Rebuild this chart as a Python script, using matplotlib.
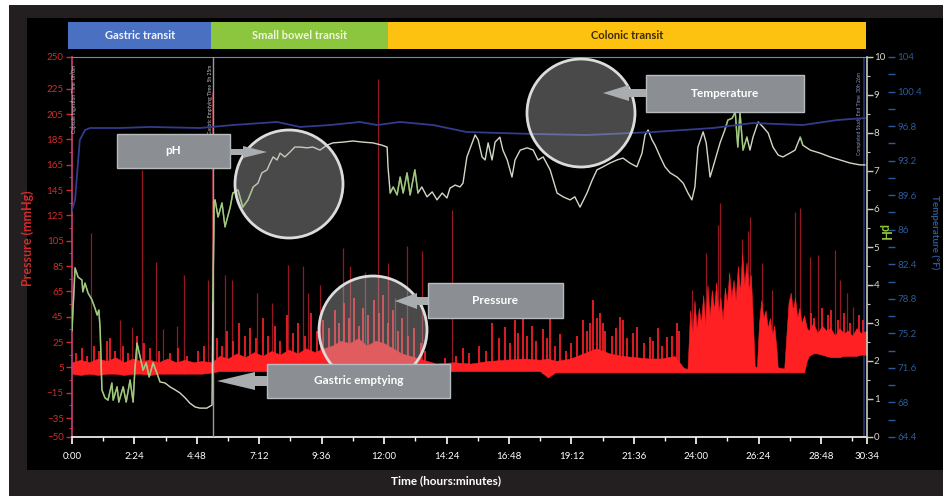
import numpy as np
import matplotlib
matplotlib.use('Agg')
import matplotlib.pyplot as plt
from matplotlib.patches import Rectangle, Ellipse, Polygon
from matplotlib.ticker import FixedLocator, FuncFormatter

plt.rcParams['font.family'] = ['Lato', 'DejaVu Sans']

W, H = 943, 496

# transit phases (minutes after ingestion)
phases = ['Gastric transit', 'Small bowel transit', 'Colonic transit']
phase_start = [0, 322, 730]
phase_end = [322, 730, 1834]
phase_colors = ['#4a70c2', '#8cc63f', '#fdc10f']
phase_text = ['#f2f4fa', '#eef6dc', '#3b2a05']

gastric_emptying = 325
study_end = 1827

# pressure (mmHg): dense trace band, time / upper edge / lower edge
press_t = [0, 20, 40, 60, 80, 100, 120, 140, 160, 180, 200, 220, 240, 260, 280, 300, 323,
           340, 360, 380, 400, 420, 440, 460, 480, 500, 520, 540, 560, 580, 600, 620, 640, 660, 680,
           700, 720, 740, 760, 780, 800, 820,
           840, 880, 920, 960, 1000, 1040, 1080, 1098, 1115, 1150, 1180, 1210, 1240, 1270, 1300, 1330,
           1360, 1390, 1410, 1416,
           1420, 1426, 1431, 1436, 1441, 1446, 1451, 1456, 1461, 1466,
           1471, 1476, 1481, 1486, 1491, 1496, 1501, 1506, 1511, 1516,
           1521, 1526, 1531, 1536, 1541, 1546, 1551, 1556, 1561, 1566,
           1571, 1575, 1580, 1585, 1590, 1595, 1600, 1605, 1610, 1615,
           1620, 1625, 1628, 1643, 1648, 1653, 1658, 1663, 1668, 1673,
           1678, 1683, 1689, 1695,
           1700, 1710, 1720, 1730, 1740, 1750, 1760, 1770, 1780, 1790, 1800, 1810, 1820, 1834]
press_hi = [9, 11, 9, 12, 10, 13, 9, 12, 10, 11, 9, 12, 9, 11, 9, 10, 9,
            14, 12, 16, 13, 17, 14, 18, 15, 19, 16, 20, 17, 20, 22, 26, 24, 28, 22,
            26, 24, 20, 16, 14, 12, 10,
            8, 9, 8, 10, 11, 12, 11, 12, 10, 12, 16, 20, 16, 14, 13, 12,
            12, 14, 5, 4,
            4, 50, 30, 58, 35, 52, 40, 62, 38, 70,
            45, 66, 50, 72, 48, 60, 42, 68, 55, 80,
            60, 74, 58, 85, 64, 95, 70, 88, 66, 78,
            40, 6, 5, 40, 58, 44, 50, 36, 44, 30,
            38, 20, 5, 4, 30, 56, 64, 50, 60, 44,
            52, 40, 46, 36,
            34, 40, 32, 38, 34, 36, 30, 36, 32, 34, 30, 36, 32, 34]
press_lo = [0, -1, 0, -1, 0, 0, -1, 0, 0, -1, 0, 0, 0, 0, 0, 0, 1,
            2, 2, 2, 2, 2, 2, 2, 2, 2, 2, 2, 2, 2, 2, 2, 2, 2, 2,
            2, 2, 2, 2, 2, 2, 2,
            2, 2, 2, 2, 2, 2, 2, -3, 1, 1, 1, 1, 1, 1, 1, 1,
            1, 1, 1, 1,
            1, 1, 1, 1, 1, 1, 1, 1, 1, 1,
            1, 1, 1, 1, 1, 1, 1, 1, 1, 1,
            1, 1, 1, 1, 1, 1, 1, 1, 1, 1,
            1, 1, 1, 1, 1, 1, 1, 1, 1, 1,
            1, 1, 1, 1, 1, 1, 1, 1, 1, 1,
            1, 1, 1, 10,
            14, 16, 16, 15, 14, 13, 13, 13, 14, 14, 14, 14, 15, 15]

# short bright contractions (time, peak mmHg)
burst_t = [10, 22, 35, 50, 62, 80, 88, 100, 118, 130, 150, 165, 180, 200, 225, 245, 265, 290, 305,
           335, 345, 358, 372, 385, 398, 410, 425, 440, 452, 468, 480, 495, 510, 522, 538, 552, 566, 580, 594,
           606, 615, 628, 640, 650, 662, 672, 684, 696, 708, 718, 728, 740, 752, 762, 775, 790, 805, 815,
           860, 885, 902, 915, 940, 955, 969, 985, 999, 1010, 1022, 1030, 1040, 1050, 1061, 1070, 1087, 1095,
           1103, 1115, 1126, 1140, 1150, 1165, 1179, 1188, 1195, 1202, 1210, 1218, 1225, 1230, 1245, 1255,
           1264, 1271, 1280, 1295, 1303, 1320, 1333, 1340, 1352, 1362, 1373, 1385, 1396, 1400,
           1705, 1712, 1730, 1745, 1752, 1768, 1780, 1795, 1815, 1825]
burst_p = [16, 20, 14, 22, 18, 26, 28, 18, 22, 16, 30, 24, 20, 18, 16, 20, 14, 18, 22,
           28, 22, 34, 26, 40, 30, 36, 28, 44, 30, 38, 26, 46, 32, 40, 30, 48, 34, 42, 36,
           50, 40, 56, 44, 60, 38, 52, 46, 58, 48, 62, 40, 50, 34, 44, 30, 36, 24, 18,
           12, 14, 20, 16, 22, 18, 40, 28, 37, 24, 42, 32, 46, 30, 38, 26, 35, 28,
           50, 22, 31, 18, 24, 30, 42, 34, 40, 58, 44, 48, 40, 34, 30, 36,
           45, 42, 28, 32, 37, 24, 29, 26, 36, 22, 29, 30, 40, 34,
           48, 44, 52, 46, 50, 42, 48, 40, 46, 42]

# tall isolated spikes (time, peak mmHg)
spike_t = [44, 111, 138, 161, 194, 210, 242, 258, 314, 323,
           353, 369, 427, 462, 498, 533, 545, 572, 625, 641, 676, 706, 729, 745, 773, 807, 877,
           1430, 1463, 1490, 1495, 1546, 1560, 1564, 1592, 1615, 1668, 1680,
           1703, 1721, 1760, 1772, 1788, 1802]
spike_p = [111, 42, 37, 161, 88, 35, 38, 78, 74, 222,
           78, 74, 64, 56, 86, 85, 64, 70, 99, 85, 80, 233, 87, 60, 101, 97, 129,
           66, 95, 117, 135, 106, 113, 124, 87, 66, 128, 131,
           92, 94, 98, 74, 64, 53]

# pH trace
ph_t = [0, 7, 14, 23, 25, 30, 37, 46, 53, 58, 62, 65, 69, 76, 83, 92, 95, 104, 108, 118,
        125, 134, 141, 145, 150, 157, 164, 171, 178, 187, 196, 203, 215, 226, 238, 249, 261, 272, 284, 295,
        311, 323, 325, 328, 330, 337, 346, 353, 365, 371, 383, 394, 406, 418, 429, 438, 450, 457, 464, 473,
        480, 491, 503, 514, 526, 542, 556, 572, 588, 602, 625, 648, 671, 694, 715, 727, 729, 734, 741, 750,
        757, 764, 773, 780, 791, 798, 807, 819, 831, 842, 854, 865, 872, 884, 895, 902, 911, 923, 930, 937,
        946, 953, 960, 969, 976, 987, 994, 1004, 1015, 1022, 1034, 1050, 1064, 1075, 1087, 1103, 1119, 1133, 1149, 1160,
        1172, 1188, 1200, 1211, 1225, 1241, 1257, 1271, 1287, 1303, 1315, 1322, 1329, 1338, 1345, 1357, 1368, 1380, 1396, 1410,
        1421, 1430, 1437, 1444, 1456, 1463, 1472, 1479, 1488, 1495, 1506, 1513, 1523, 1530, 1536, 1541, 1548, 1557, 1564, 1571,
        1583, 1594, 1606, 1617, 1629, 1640, 1656, 1668, 1680, 1686, 1703, 1726, 1749, 1772, 1795, 1818, 1829]
ph_v = [2.8, 4.45, 4.21, 4.13, 3.82, 4.05, 3.79, 3.61, 3.39, 3.21, 3.34, 2.82, 1.24, 1.03, 0.97, 1.42, 0.97, 1.32, 0.92, 1.32,
        0.92, 1.50, 0.92, 1.76, 2.47, 2.11, 1.76, 1.95, 1.58, 1.95, 1.68, 1.45, 1.42, 1.32, 1.24, 1.16, 1.03, 0.89, 0.79, 0.76,
        0.76, 0.84, 3.6, 6.2, 6.24, 5.79, 6.16, 5.53, 6.05, 6.42, 6.50, 6.05, 6.24, 6.58, 6.68, 6.95, 7.03, 7.21, 7.37, 7.29,
        7.47, 7.37, 7.50, 7.63, 7.63, 7.61, 7.63, 7.55, 7.68, 7.74, 7.76, 7.79, 7.76, 7.74, 7.68, 7.63, 7.11, 6.42, 6.58, 6.37,
        6.84, 6.42, 6.95, 6.37, 7.03, 6.42, 6.58, 6.32, 6.45, 6.24, 6.42, 6.29, 6.55, 6.63, 6.58, 6.68, 7.37, 7.74, 7.95, 7.82,
        7.37, 7.29, 7.74, 7.29, 7.76, 7.89, 7.55, 7.29, 6.84, 7.29, 7.55, 7.61, 7.55, 7.29, 7.37, 7.03, 6.42, 6.32, 6.24, 6.32,
        6.05, 6.42, 6.76, 7.03, 7.11, 7.21, 7.29, 7.34, 7.21, 7.11, 7.47, 7.95, 8.08, 7.82, 7.68, 7.37, 7.11, 6.95, 6.84, 6.68,
        6.42, 6.24, 6.58, 7.63, 8.03, 7.74, 6.84, 7.11, 7.47, 7.74, 8.08, 8.34, 8.39, 8.55, 7.63, 8.53, 7.55, 7.89, 7.55, 7.89,
        8.29, 8.16, 8.00, 7.63, 7.42, 7.37, 7.47, 7.55, 7.89, 7.68, 7.55, 7.47, 7.37, 7.29, 7.21, 7.16, 7.16]
ph_green_spans = [(0, 205), (324, 420), (730, 800), (1500, 1560), (1670, 1690)]

# temperature (deg F)
temp_t = [0, 7, 18, 30, 42, 111, 180, 295, 371, 473, 526, 595, 664, 704, 757, 833,
          911, 987, 1064, 1188, 1340, 1479, 1571, 1686, 1765, 1829]
temp_v = [88.0, 89.1, 95.35, 96.39, 96.60, 96.60, 96.71, 96.60, 96.91, 97.23, 96.71, 96.91, 97.23, 96.91, 97.23, 96.91,
          96.18, 96.08, 95.98, 95.87, 96.18, 96.60, 97.12, 96.91, 97.43, 97.64]

press_ticks = [250, 225, 205, 185, 165, 145, 125, 105, 85, 65, 45, 25, 5, -15, -35, -50]
press_minor = [237.5, 215, 195, 175, 155, 135, 115, 95, 75, 55, 35, 15, -5, -25, -42.5]
time_ticks = [0, 144, 288, 432, 576, 720, 864, 1008, 1152, 1296, 1440, 1584, 1728, 1834]
time_minor = [72, 216, 360, 504, 648, 792, 936, 1080, 1224, 1368, 1512, 1656, 1800]
temp_ticks = [64.4, 68, 71.6, 75.2, 78.8, 82.4, 86, 89.6, 93.2, 96.8, 100.4, 104]
temp_labels = ['64.4', '68', '71.6', '75.2', '78.8', '82.4', '86', '89.6', '93.2', '96.8', '100.4', '104']
temp_minor = [66.2, 69.8, 73.4, 77, 80.6, 84.2, 87.8, 91.4, 95, 98.6, 102.2]


def fx(x):
    return x / W


def fy(y):
    return 1 - y / H


fig = plt.figure(figsize=(W / 100, H / 100), dpi=100)
fig.patch.set_facecolor('white')
fig.add_artist(Rectangle((fx(9), 0), 1 - fx(9), fy(5), transform=fig.transFigure,
                         facecolor='#231f20', edgecolor='none', zorder=-3))
fig.add_artist(Rectangle((fx(27), fy(470)), 1 - fx(27), fy(18) - fy(470), transform=fig.transFigure,
                         facecolor='black', edgecolor='none', zorder=-2))

# phase band
axb = fig.add_axes([fx(68), fy(49), fx(866) - fx(68), (49 - 22) / H])
axb.set_xlim(-9, 1832)
axb.set_ylim(0, 1)
axb.axis('off')
for i, name in enumerate(phases):
    s = -9 if i == 0 else phase_start[i]
    axb.add_patch(Rectangle((s, 0), phase_end[i] - s, 1, facecolor=phase_colors[i], edgecolor='none'))
    axb.text((s + phase_end[i]) / 2, 0.5, name, ha='center', va='center', fontsize=8,
             fontweight='bold', color=phase_text[i])

# main pressure axes
ax = fig.add_axes([fx(72), fy(437), fx(867) - fx(72), (437 - 57) / H])
ax.set_facecolor('none')
ax.set_xlim(0, 1834)
ax.set_ylim(-50, 250)

spike_base = np.interp(spike_t, press_t, press_lo)
ax.vlines(spike_t, spike_base, spike_p, colors='#b01c2a', lw=0.9, alpha=0.85, zorder=1.5)
burst_base = np.interp(burst_t, press_t, press_lo)
ax.vlines(burst_t, burst_base, burst_p, colors='#f01e26', lw=1.3, zorder=2)
ax.fill_between(press_t, press_lo, press_hi, color='#ff2024', lw=0.4, edgecolor='#ff2024', zorder=2)
ax.axvline(gastric_emptying, color='#9a9a9a', lw=1, zorder=3)
ax.axvline(study_end, color='#27357a', lw=1.2, zorder=1)

ax.spines['right'].set_visible(False)
ax.spines['left'].set_color('#c8407a')
ax.spines['left'].set_linewidth(1.2)
ax.spines['bottom'].set_color('white')
ax.spines['bottom'].set_linewidth(1.2)
ax.spines['top'].set_color('#7c8896')
ax.spines['top'].set_linewidth(0.8)

ax.yaxis.set_major_locator(FixedLocator(press_ticks))
ax.yaxis.set_minor_locator(FixedLocator(press_minor))
ax.tick_params(axis='y', which='major', colors='#d42b2b', labelsize=7, length=4, width=1, pad=2)
ax.tick_params(axis='y', which='minor', colors='#d42b2b', length=2.5, width=0.8)

ax.xaxis.set_major_locator(FixedLocator(time_ticks))
ax.xaxis.set_minor_locator(FixedLocator(time_minor))
ax.xaxis.set_major_formatter(FuncFormatter(lambda v, p: '%d:%02d' % (int(v) // 60, int(v) % 60)))
ax.tick_params(axis='x', which='major', colors='white', labelsize=7, length=5, width=1.2, pad=6)
ax.tick_params(axis='x', which='minor', colors='white', length=3, width=1)

fig.text(fx(28), fy(238), 'Pressure (mmHg)', rotation=90, ha='center', va='center',
         color='#d42b2b', fontsize=9, fontweight='bold')
fig.text(fx(446), fy(481), 'Time (hours:minutes)', ha='center', va='center',
         color='white', fontsize=8.5, fontweight='bold')

# small event captions
ax.text(6, 0.98, 'Capsule Ingestion Time  0h 0m', transform=ax.get_xaxis_transform(), rotation=90,
        fontsize=3.6, color='#c8c8c8', ha='center', va='top', zorder=4)
ax.text(gastric_emptying - 5, 0.98, 'Gastric Emptying Time  5h 25m', transform=ax.get_xaxis_transform(),
        rotation=90, fontsize=3.6, color='#c8c8c8', ha='center', va='top', zorder=4)
ax.text(study_end - 10, 0.96, 'Completed Study End Time  30h 26m', transform=ax.get_xaxis_transform(),
        rotation=90, fontsize=3.6, color='#8a9ad0', ha='center', va='top', zorder=4)

# pH axes
axp = ax.twinx()
axp.set_ylim(0, 10)
axp.set_xlim(0, 1834)
ph_t_arr = np.array(ph_t)
ph_v_arr = np.array(ph_v)
axp.plot(ph_t, ph_v, color='#d2d8c6', lw=1.0, zorder=3)
for a, b in ph_green_spans:
    m = (ph_t_arr >= a) & (ph_t_arr <= b)
    axp.plot(ph_t_arr[m], ph_v_arr[m], color='#7fc24c', lw=1.1, alpha=0.6, zorder=4)
for side in ['left', 'top', 'bottom']:
    axp.spines[side].set_visible(False)
axp.spines['right'].set_color('#c9cdb8')
axp.spines['right'].set_linewidth(1.2)
axp.yaxis.set_major_locator(FixedLocator(range(0, 11)))
axp.yaxis.set_minor_locator(FixedLocator([i + 0.5 for i in range(10)]))
axp.tick_params(axis='y', which='major', colors='#c9cdb8', labelcolor='#d6d9cc', labelsize=7, length=4, width=1, pad=1)
axp.tick_params(axis='y', which='minor', colors='#c9cdb8', length=2.5, width=0.8)
fig.text(fx(884), fy(232), 'pH', rotation=270, ha='center', va='center',
         color='#8cc63f', fontsize=9, fontweight='bold')

# temperature axes
axt = ax.twinx()
axt.set_ylim(64.4, 104)
axt.set_xlim(0, 1834)
axt.plot(temp_t, temp_v, color='#333b8c', lw=1.3, zorder=2)
for side in ['left', 'top', 'bottom', 'right']:
    axt.spines[side].set_visible(False)
axt.spines['right'].set_position(('outward', 15))
axt.set_yticks(temp_ticks, temp_labels)
axt.yaxis.set_minor_locator(FixedLocator(temp_minor))
axt.tick_params(axis='y', which='major', colors='#2c5a9a', labelsize=7, length=5, width=1, pad=2)
axt.tick_params(axis='y', which='minor', colors='#2c5a9a', length=5, width=1)
fig.text(fx(935), fy(232), 'Temperature (\u00b0F)', rotation=270, ha='center', va='center',
         color='#2c5a9a', fontsize=7, fontweight='bold')

# callouts: magnifier circles, labelled boxes and pointers
circles = [(289, 184, 54), (373, 330, 54), (581, 113, 54)]
for cx, cy, r in circles:
    fig.add_artist(Ellipse((fx(cx), fy(cy)), 2 * r / W, 2 * r / H, transform=fig.transFigure,
                           facecolor=(0.706, 0.706, 0.706, 0.41), edgecolor='#dcdcdc', lw=2, zorder=5))

boxes = [('pH', 117, 134, 230, 168), ('Pressure', 428, 283, 563, 318),
         ('Gastric emptying', 267, 364, 450, 398), ('Temperature', 646, 75, 804, 112)]
for label, x0, y0, x1, y1 in boxes:
    fig.add_artist(Rectangle((fx(x0), fy(y1)), fx(x1) - fx(x0), fy(y0) - fy(y1), transform=fig.transFigure,
                             facecolor='#8b8e92', edgecolor='#b8bbbe', lw=1, zorder=6))
    fig.text(fx((x0 + x1) / 2), fy((y0 + y1) / 2), label, ha='center', va='center', fontsize=8.5,
             fontweight='bold', color='white', zorder=7)

# pointers: base x, tip x, y, head length, head half-height, shaft half-height
pointers = [(230, 267, 152, 24, 6, 3), (428, 395, 301, 22, 8, 4), (267, 217, 381, 38, 9, 5),
            (646, 603, 93, 26, 8, 4)]
for xb, xt, yc, hl, hh, sh in pointers:
    d = 1 if xt > xb else -1
    xh = xt - d * hl
    pts = [(xb, yc - sh), (xh, yc - sh), (xh, yc - hh), (xt, yc), (xh, yc + hh), (xh, yc + sh), (xb, yc + sh)]
    fig.add_artist(Polygon([(fx(a), fy(b)) for a, b in pts], closed=True, transform=fig.transFigure,
                           facecolor='#aaadb0', edgecolor='none', zorder=6))

fig.savefig('out.png', dpi=100, facecolor=fig.get_facecolor())
